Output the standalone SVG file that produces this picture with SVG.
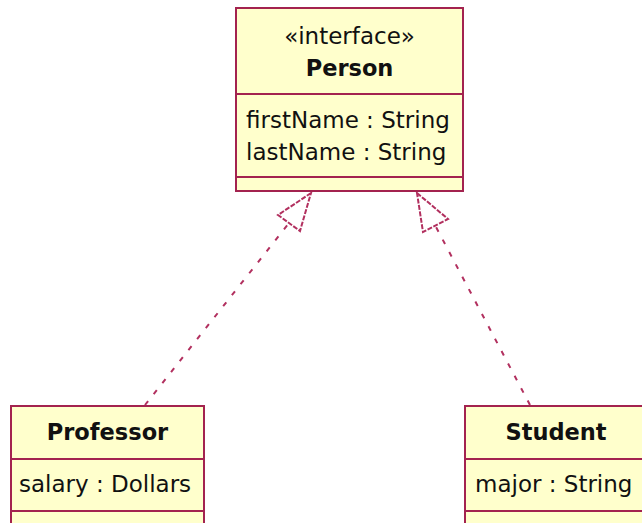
<svg xmlns="http://www.w3.org/2000/svg" width="642" height="523" viewBox="0 0 642 523">
<style>
.box{fill:#FFFFCC;stroke:#A3234F;stroke-width:2}
.div{stroke:#A3234F;stroke-width:2}
.t{font-family:"DejaVu Sans",Verdana,sans-serif;font-size:23px;fill:#111}
.b{font-weight:bold;text-anchor:middle;font-size:22.5px}
.c{text-anchor:middle}
.dash{fill:none;stroke:#B2305F;stroke-width:2;stroke-dasharray:5 9}
.head{fill:#FFFFFF;stroke:#B2305F;stroke-width:2;stroke-dasharray:5 1.5;stroke-linejoin:miter}
</style>
<rect width="642" height="523" fill="#FFFFFF"/>
<g id="connectors">
<line class="dash" x1="145" y1="405" x2="289" y2="223"/>
<polygon class="head" points="311,193 278,215 300,231"/>
<line class="dash" x1="530" y1="405" x2="435.5" y2="226"/>
<polygon class="head" points="417,193 448,219 423,232"/>
</g>
<g id="person">
<rect class="box" x="236" y="8" width="227" height="183"/>
<line class="div" x1="236" y1="94" x2="463" y2="94"/>
<line class="div" x1="236" y1="177" x2="463" y2="177"/>
<text class="t c" x="349.5" y="44">«interface»</text>
<text class="t b" x="349.5" y="76">Person</text>
<text class="t" x="246" y="128">firstName : String</text>
<text class="t" x="246" y="160">lastName : String</text>
</g>
<g id="professor">
<rect class="box" x="11" y="406" width="193" height="130"/>
<line class="div" x1="11" y1="459" x2="204" y2="459"/>
<line class="div" x1="11" y1="511" x2="204" y2="511"/>
<text class="t b" x="107.5" y="440">Professor</text>
<text class="t" x="19" y="492">salary : Dollars</text>
</g>
<g id="student">
<rect class="box" x="465" y="406" width="184" height="130"/>
<line class="div" x1="465" y1="459" x2="649" y2="459"/>
<line class="div" x1="465" y1="511" x2="649" y2="511"/>
<text class="t b" x="556" y="440">Student</text>
<text class="t" x="475" y="492">major : String</text>
</g>
</svg>
